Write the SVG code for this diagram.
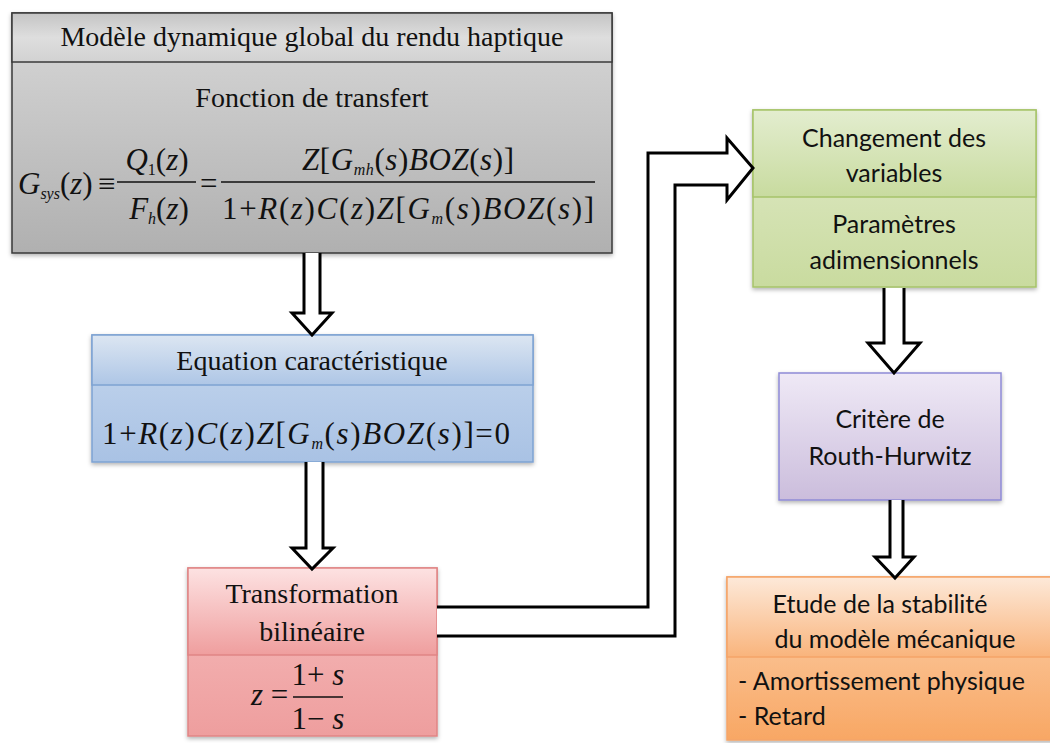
<svg xmlns="http://www.w3.org/2000/svg" width="1050" height="743" viewBox="0 0 1050 743">
<defs>
<linearGradient id="gH" x1="0" y1="0" x2="0" y2="1"><stop offset="0" stop-color="#c4c4c4"/><stop offset="0.5" stop-color="#dedede"/><stop offset="1" stop-color="#d2d2d2"/></linearGradient>
<linearGradient id="gB" x1="0" y1="0" x2="0" y2="1"><stop offset="0" stop-color="#d8d8d8"/><stop offset="1" stop-color="#b0b0b0"/></linearGradient>
<linearGradient id="bH" x1="0" y1="0" x2="0" y2="1"><stop offset="0" stop-color="#dce6f2"/><stop offset="1" stop-color="#aec6e6"/></linearGradient>
<linearGradient id="bB" x1="0" y1="0" x2="0" y2="1"><stop offset="0" stop-color="#c5d7ee"/><stop offset="1" stop-color="#a9c2e4"/></linearGradient>
<linearGradient id="rH" x1="0" y1="0" x2="0" y2="1"><stop offset="0" stop-color="#fde2e2"/><stop offset="1" stop-color="#ef9e9e"/></linearGradient>
<linearGradient id="rB" x1="0" y1="0" x2="0" y2="1"><stop offset="0" stop-color="#f6bdbd"/><stop offset="1" stop-color="#ee9e9e"/></linearGradient>
<linearGradient id="grH" x1="0" y1="0" x2="0" y2="1"><stop offset="0" stop-color="#e3edcf"/><stop offset="1" stop-color="#c8db9f"/></linearGradient>
<linearGradient id="grB" x1="0" y1="0" x2="0" y2="1"><stop offset="0" stop-color="#e2ebcb"/><stop offset="1" stop-color="#c9db9f"/></linearGradient>
<linearGradient id="pB" x1="0" y1="0" x2="0" y2="1"><stop offset="0" stop-color="#efe9f6"/><stop offset="1" stop-color="#cbbddc"/></linearGradient>
<linearGradient id="oH" x1="0" y1="0" x2="0" y2="1"><stop offset="0" stop-color="#fde9d9"/><stop offset="1" stop-color="#f9b47c"/></linearGradient>
<linearGradient id="oB" x1="0" y1="0" x2="0" y2="1"><stop offset="0" stop-color="#fcd3b0"/><stop offset="1" stop-color="#f8a764"/></linearGradient>
<filter id="sh" x="-5%" y="-5%" width="110%" height="115%"><feDropShadow dx="0" dy="2" stdDeviation="2" flood-color="#000" flood-opacity="0.3"/></filter>
</defs>
<style>
.serif{font-family:"Liberation Serif","Times New Roman",serif;fill:#111;}
.sans{font-family:Lato,"Liberation Sans",sans-serif;fill:#111;font-size:25px;text-anchor:middle;}
.sansL{font-family:Lato,"Liberation Sans",sans-serif;fill:#111;font-size:25px;text-anchor:start;}
.ttl{font-size:28px;text-anchor:middle;}
.m{font-family:"Liberation Serif","Times New Roman",serif;font-size:31px;fill:#111;}
.mc{text-anchor:middle;}
.i{font-style:italic;}
.sb{font-size:16px;font-style:italic;}
.arrow{fill:#fff;stroke:#000;stroke-width:3;stroke-linejoin:miter;}
</style>

<g id="node-model">
<rect x="12" y="13" width="600" height="240" fill="url(#gB)" stroke="#3a3a3a" stroke-width="1.5" filter="url(#sh)"/>
<rect x="12" y="13" width="600" height="49" fill="url(#gH)" stroke="#3a3a3a" stroke-width="1.5"/>
<text class="serif ttl" x="312" y="46">Modèle dynamique global du rendu haptique</text>
<text class="serif ttl" x="312" y="107">Fonction de transfert</text>
<text class="m" x="18" y="194"><tspan class="i">G</tspan><tspan class="sb" dy="5">sys</tspan><tspan dy="-5">(</tspan><tspan class="i">z</tspan>)</text>
<text class="m" x="98" y="194">≡</text>
<text class="m mc" x="157" y="170"><tspan class="i">Q</tspan><tspan font-size="16" dy="5">1</tspan><tspan dy="-5">(</tspan><tspan class="i">z</tspan>)</text>
<line x1="117" y1="182" x2="196" y2="182" stroke="#111" stroke-width="1.3"/>
<text class="m mc" x="159" y="219"><tspan class="i">F</tspan><tspan class="sb" dy="5">h</tspan><tspan dy="-5">(</tspan><tspan class="i">z</tspan>)</text>
<text class="m" x="200" y="194">=</text>
<text class="m mc" x="408" y="170" textLength="212" lengthAdjust="spacing"><tspan class="i">Z</tspan>[<tspan class="i">G</tspan><tspan class="sb" dy="5">mh</tspan><tspan dy="-5">(</tspan><tspan class="i">s</tspan>)<tspan class="i">BOZ</tspan>(<tspan class="i">s</tspan>)]</text>
<line x1="221" y1="182" x2="595" y2="182" stroke="#111" stroke-width="1.3"/>
<text class="m mc" x="408" y="219" textLength="372" lengthAdjust="spacing">1+<tspan class="i">R</tspan>(<tspan class="i">z</tspan>)<tspan class="i">C</tspan>(<tspan class="i">z</tspan>)<tspan class="i">Z</tspan>[<tspan class="i">G</tspan><tspan class="sb" dy="5">m</tspan><tspan dy="-5">(</tspan><tspan class="i">s</tspan>)<tspan class="i">BOZ</tspan>(<tspan class="i">s</tspan>)]</text>
</g>

<g id="node-equation">
<rect x="92" y="335" width="441" height="127" fill="url(#bB)" stroke="#7ea3d2" stroke-width="1.5" filter="url(#sh)"/>
<rect x="92" y="335" width="441" height="50" fill="url(#bH)" stroke="#7ea3d2" stroke-width="1.5"/>
<text class="serif ttl" x="312" y="370">Equation caractéristique</text>
<text class="m mc" x="306" y="444" textLength="408" lengthAdjust="spacing">1+<tspan class="i">R</tspan>(<tspan class="i">z</tspan>)<tspan class="i">C</tspan>(<tspan class="i">z</tspan>)<tspan class="i">Z</tspan>[<tspan class="i">G</tspan><tspan class="sb" dy="5">m</tspan><tspan dy="-5">(</tspan><tspan class="i">s</tspan>)<tspan class="i">BOZ</tspan>(<tspan class="i">s</tspan>)]=0</text>
</g>

<g id="node-bilinear">
<rect x="188" y="568" width="249" height="168" fill="url(#rB)" stroke="#e08585" stroke-width="1.5" filter="url(#sh)"/>
<rect x="188" y="568" width="249" height="87" fill="url(#rH)" stroke="#e08585" stroke-width="1.5"/>
<text class="serif ttl" x="312" y="603">Transformation</text>
<text class="serif ttl" x="312" y="641">bilinéaire</text>
<text class="m" x="251" y="705"><tspan class="i">z</tspan> =</text>
<text class="m mc" x="318" y="685">1+ <tspan class="i">s</tspan></text>
<line x1="293" y1="697" x2="343" y2="697" stroke="#111" stroke-width="1.3"/>
<text class="m mc" x="318" y="729">1− <tspan class="i">s</tspan></text>
</g>

<g id="node-variables">
<rect x="753" y="110" width="283" height="177" fill="url(#grB)" stroke="#a6c36a" stroke-width="1.5" filter="url(#sh)"/>
<rect x="753" y="110" width="283" height="87" fill="url(#grH)" stroke="#a6c36a" stroke-width="1.5"/>
<text class="sans" x="894" y="147">Changement des</text>
<text class="sans" x="894" y="182">variables</text>
<text class="sans" x="894" y="233">Paramètres</text>
<text class="sans" x="894" y="269">adimensionnels</text>
</g>

<g id="node-routh">
<rect x="779" y="373" width="222" height="127" fill="url(#pB)" stroke="#8f8bd6" stroke-width="1.5" filter="url(#sh)"/>
<text class="sans" x="890" y="428">Critère de</text>
<text class="sans" x="890" y="465">Routh-Hurwitz</text>
</g>

<g id="node-stability">
<rect x="727" y="577" width="330" height="163" fill="url(#oB)" stroke="#f5a468" stroke-width="1.5" filter="url(#sh)"/>
<rect x="727" y="577" width="330" height="80" fill="url(#oH)" stroke="#f5a468" stroke-width="1.5"/>
<text class="sans" x="880" y="613">Etude de la stabilité</text>
<text class="sans" x="895" y="648">du modèle mécanique</text>
<text class="sansL" x="738" y="690">- Amortissement physique</text>
<text class="sansL" x="738" y="725">- Retard</text>
</g>

<g id="connectors">
<path class="arrow" d="M304 253 V313 H292 L312 335 L332 313 H320 V253"/>
<path class="arrow" d="M306 462 V548 H292 L312 569 L333 548 H323 V462"/>
<path class="arrow" d="M437 607 H648 V153 H727 V138 L753 168 L727 200 V185 H675 V636 H437"/>
<path class="arrow" d="M884 288 V343 H868 L894 373 L920 343 H904 V288"/>
<path class="arrow" d="M890 500 V557 H875 L895 578 L914 557 H903 V500"/>
</g>
</svg>
